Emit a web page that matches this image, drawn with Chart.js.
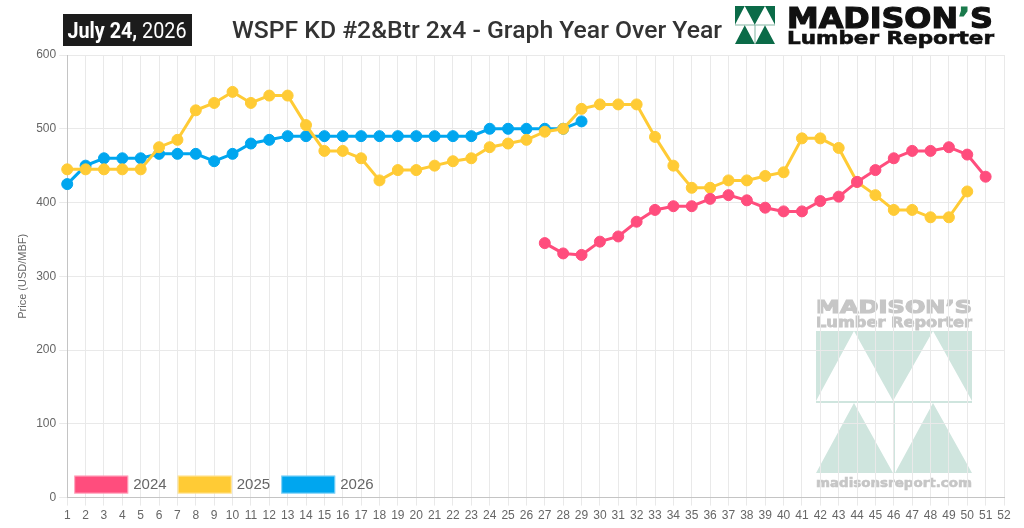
<!DOCTYPE html>
<html>
<head>
<meta charset="utf-8">
<title>WSPF KD #2&amp;Btr 2x4 - Graph Year Over Year</title>
<script src="https://cdn.jsdelivr.net/npm/chart.js@4.4.1/dist/chart.umd.min.js"></script>
<style>
  html, body { margin: 0; padding: 0; background: #fff; }
  #wrap { position: relative; width: 1024px; height: 528px; overflow: hidden; }
  #chart { position: absolute; left: 0; top: 0; }
  #header { position: absolute; left: 0; top: 0; pointer-events: none; }
</style>
</head>
<body>
<div id="wrap">
  <canvas id="chart" width="1024" height="528"></canvas>
  <svg id="header" width="1024" height="52" viewBox="0 0 1024 52">
    <rect x="63" y="14" width="129" height="32" fill="#1c1c1c"/>
    <text x="67.5" y="38" font-family="Roboto, 'Liberation Sans', sans-serif" font-size="22" fill="#fff"
          textLength="119" lengthAdjust="spacingAndGlyphs"><tspan font-weight="700">July 24,</tspan> 2026</text>
    <text x="232" y="37.5" font-family="Roboto, 'Liberation Sans', sans-serif" font-size="23" font-weight="500" fill="#333"
          textLength="490" lengthAdjust="spacingAndGlyphs">WSPF KD #2&amp;Btr 2x4 - Graph Year Over Year</text>
    <!-- logo mark -->
    <g transform="translate(735,6) scale(0.2564,0.2676)" fill="#0b6b48">
      <path d="M0 0 H156 V72 H0 Z M0 70 L38 0 L77 70 Z M77 70 L117 0 L156 70 Z" fill-rule="evenodd"/>
      <path d="M0 142 L38 72 L77 142 Z M79 142 L117 72 L156 142 Z"/>
      <rect x="77" y="72" width="2" height="70"/>
    </g>
    <text x="787" y="28" font-family="'DejaVu Sans', sans-serif" font-size="29" font-weight="700" fill="#111"
          stroke="#111" stroke-width="1.2" textLength="206" lengthAdjust="spacingAndGlyphs">MADISON<tspan fill="#1a7a4c" stroke="#1a7a4c">’</tspan>S</text>
    <text x="787" y="44" font-family="'DejaVu Sans', sans-serif" font-size="18" font-weight="700" fill="#111"
          stroke="#111" stroke-width="0.6" textLength="207" lengthAdjust="spacingAndGlyphs">Lumber Reporter</text>
  </svg>
</div>
<script>
// week numbers along the x axis
const weeks = ['1', '2', '3', '4', '5', '6', '7', '8', '9', '10', '11', '12', '13',
  '14', '15', '16', '17', '18', '19', '20', '21', '22', '23', '24', '25', '26',
  '27', '28', '29', '30', '31', '32', '33', '34', '35', '36', '37', '38', '39',
  '40', '41', '42', '43', '44', '45', '46', '47', '48', '49', '50', '51', '52'];

// 2024 only starts at week 27
const firstWeek2024 = 27;
const prices2024 = [345, 331, 329, 347, 354, 374, 390, 395, 395, 405, 410, 403, 393,
  388, 388, 402, 408, 428, 444, 460, 470, 470, 475, 465, 435];

const prices2025 = [445, 445, 445, 445, 445, 475, 485, 525, 535, 550, 535, 545, 545,
  505, 470, 470, 460, 430, 444, 444, 450, 456, 460, 475, 480, 485, 496, 500, 527,
  533, 533, 533, 489, 450, 420, 420, 430, 430, 436, 441, 487, 487, 474, 428, 410,
  390, 390, 380, 380, 415];

const prices2026 = [425, 450, 460, 460, 460, 466, 466, 466, 456, 466, 480, 485, 490,
  490, 490, 490, 490, 490, 490, 490, 490, 490, 490, 500, 500, 500, 500, 500, 510];

const yTicks = [0, 100, 200, 300, 400, 500, 600];

const colors = {
  y2024: '#ff4d7d',
  y2025: '#ffcb35',
  y2026: '#00a6ef'
};

// pad the late-starting series so it lines up with the week labels
const data2024 = Array(firstWeek2024 - 1).fill(null).concat(prices2024);

function lineSet(label, values, color) {
  return {
    label: label,
    data: values,
    borderColor: color,
    backgroundColor: color,
    pointBackgroundColor: color,
    pointBorderColor: color,
    borderWidth: 3,
    pointRadius: 5.5,
    pointBorderWidth: 1,
    tension: 0,
    fill: false
  };
}

// light watermark logo in the lower right of the plot
const watermark = {
  id: 'watermark',
  beforeDraw(chart) {
    const ctx = chart.ctx;
    const x0 = 816, y0 = 331, w = 156;
    ctx.save();
    ctx.fillStyle = '#cfe5de';
    ctx.beginPath();
    ctx.rect(x0, y0, w, 72);
    ctx.moveTo(x0, y0 + 70); ctx.lineTo(x0 + 38, y0); ctx.lineTo(x0 + 77, y0 + 70); ctx.closePath();
    ctx.moveTo(x0 + 77, y0 + 70); ctx.lineTo(x0 + 117, y0); ctx.lineTo(x0 + 156, y0 + 70); ctx.closePath();
    ctx.fill('evenodd');
    ctx.beginPath();
    ctx.moveTo(x0, y0 + 142); ctx.lineTo(x0 + 38, y0 + 72); ctx.lineTo(x0 + 77, y0 + 142); ctx.closePath();
    ctx.moveTo(x0 + 79, y0 + 142); ctx.lineTo(x0 + 117, y0 + 72); ctx.lineTo(x0 + 156, y0 + 142); ctx.closePath();
    ctx.fill();
    ctx.fillRect(x0 + 77, y0 + 72, 2, 70);

    ctx.fillStyle = '#c6c6c6';
    ctx.strokeStyle = '#c6c6c6';
    ctx.textBaseline = 'alphabetic';
    const fitText = (txt, size, baseY, sw) => {
      ctx.font = 'bold ' + size + 'px "DejaVu Sans", sans-serif';
      const tw = ctx.measureText(txt).width;
      ctx.save();
      ctx.translate(x0, baseY);
      ctx.scale(w / tw, 1);
      ctx.lineWidth = sw;
      ctx.strokeText(txt, 0, 0);
      ctx.fillText(txt, 0, 0);
      ctx.restore();
    };
    fitText('MADISON’S', 18, 313, 1.2);
    fitText('Lumber Reporter', 14, 327, 0.8);
    fitText('madisonsreport.com', 13, 487, 0.6);
    ctx.restore();
  }
};

// legend drawn inside the plot, bottom left
const innerLegend = {
  id: 'innerLegend',
  afterDatasetsDraw(chart) {
    const ctx = chart.ctx;
    const area = chart.chartArea;
    let x = area.left + 7;
    const top = area.bottom - 22;
    ctx.save();
    ctx.font = '15px "Liberation Sans", Arial, sans-serif';
    ctx.textBaseline = 'middle';
    chart.data.datasets.forEach((ds) => {
      ctx.fillStyle = ds.backgroundColor;
      ctx.fillRect(x, top, 54, 18);
      ctx.strokeStyle = 'rgba(255,255,255,0.5)';
      ctx.lineWidth = 1;
      ctx.strokeRect(x + 0.5, top + 0.5, 53, 17);
      ctx.fillStyle = '#666';
      ctx.fillText(ds.label, x + 59, top + 9.5);
      x += 103.5;
    });
    ctx.restore();
  }
};

const config = {
  type: 'line',
  data: {
    labels: weeks,
    datasets: [
      lineSet('2024', data2024, colors.y2024),
      lineSet('2025', prices2025, colors.y2025),
      lineSet('2026', prices2026, colors.y2026)
    ]
  },
  options: {
    responsive: false,
    animation: false,
    layout: { padding: { top: 55, left: 12, right: 20, bottom: 2 } },
    plugins: {
      legend: { display: false },
      tooltip: { enabled: false }
    },
    scales: {
      x: {
        grid: { color: '#e9e9e9', tickLength: 8 },
        border: { color: '#c4c4c4' },
        ticks: { color: '#666', font: { size: 12 }, maxRotation: 0, autoSkip: false }
      },
      y: {
        min: yTicks[0],
        max: yTicks[yTicks.length - 1],
        grid: { color: '#e9e9e9', tickLength: 8 },
        border: { color: '#c4c4c4' },
        ticks: { color: '#666', font: { size: 12 }, stepSize: yTicks[1] - yTicks[0] },
        title: { display: true, text: 'Price (USD/MBF)', color: '#666', font: { size: 11 } }
      }
    }
  },
  plugins: [watermark, innerLegend]
};

Chart.defaults.font.family = '"Liberation Sans", Arial, Helvetica, sans-serif';

window.onload = function() {
  const ctx = document.getElementById('chart').getContext('2d');
  new Chart(ctx, config);
};
</script>
</body>
</html>
